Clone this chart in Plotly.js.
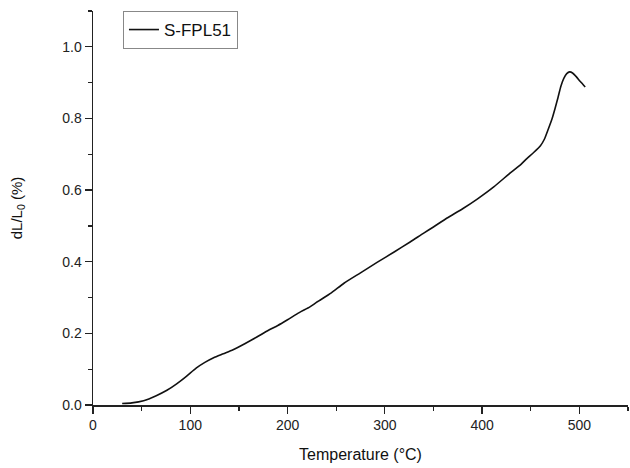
<!DOCTYPE html>
<html>
<head>
<meta charset="utf-8">
<script src="https://cdn.plot.ly/plotly-3.0.1.min.js"></script>
<style>html,body{margin:0;padding:0;background:#fff;}#chart{width:630px;height:468px;}</style>
</head>
<body>
<div id="chart"></div>
<script>
// Temperature (°C)
const temperature = [30, 40, 52, 65, 76, 86, 96, 106, 115, 124, 134, 144, 156, 168, 180, 190, 200, 212, 223, 230, 245, 258, 275, 292, 310, 326, 340, 350, 364, 380, 395, 412, 429, 440, 446, 453, 460, 464, 468, 472, 475, 478, 481, 484, 487, 490, 493, 497, 501, 506];
// dL/L0 (%)
const expansion = [0.004, 0.006, 0.012, 0.026, 0.041, 0.059, 0.080, 0.103, 0.119, 0.132, 0.143, 0.154, 0.171, 0.189, 0.208, 0.222, 0.238, 0.258, 0.274, 0.287, 0.313, 0.340, 0.369, 0.398, 0.428, 0.455, 0.480, 0.497, 0.522, 0.548, 0.575, 0.609, 0.648, 0.672, 0.688, 0.705, 0.724, 0.742, 0.770, 0.800, 0.828, 0.858, 0.890, 0.912, 0.925, 0.930, 0.927, 0.916, 0.903, 0.888];
const seriesName = 'S-FPL51';

const font = "Arial, 'Liberation Sans', sans-serif";
const trace = {
  x: temperature, y: expansion, type: 'scatter', mode: 'lines', name: seriesName,
  line: {color: '#111', width: 1.6, shape: 'spline', smoothing: 0.6}
};
const axisCommon = {
  showline: true, linecolor: '#222', linewidth: 1.5, mirror: false,
  ticks: 'outside', ticklen: 7, tickwidth: 1.3, tickcolor: '#222',
  showgrid: false, zeroline: false,
  tickfont: {family: font, size: 14, color: '#222'}
};
const layout = {
  width: 630, height: 468,
  margin: {l: 93, r: 2, t: 11, b: 63},
  paper_bgcolor: '#fff', plot_bgcolor: '#fff',
  showlegend: true,
  legend: {x: 0.056, y: 1.0, xanchor: 'left', yanchor: 'top', bordercolor: '#888', borderwidth: 1,
           bgcolor: '#fff', font: {family: font, size: 17, color: '#111'}, tracegroupgap: 0},
  xaxis: Object.assign({}, axisCommon, {
    range: [0, 550], dtick: 100, tick0: 0,
    minor: {ticks: 'outside', ticklen: 4, dtick: 50, tick0: 0, tickcolor: '#222', showgrid: false},
    title: {text: 'Temperature (°C)', font: {family: font, size: 16, color: '#111'}, standoff: 16}
  }),
  yaxis: Object.assign({}, axisCommon, {
    range: [0, 1.1], dtick: 0.2, tick0: 0, tickformat: '.1f',
    minor: {ticks: 'outside', ticklen: 4, dtick: 0.1, tick0: 0, tickcolor: '#222', showgrid: false},
    title: {text: 'dL/L<sub>0</sub> (%)', font: {family: font, size: 15, color: '#111'}, standoff: 36}
  })
};
Plotly.newPlot('chart', [trace], layout, {staticPlot: true, displayModeBar: false});
</script>
</body>
</html>
